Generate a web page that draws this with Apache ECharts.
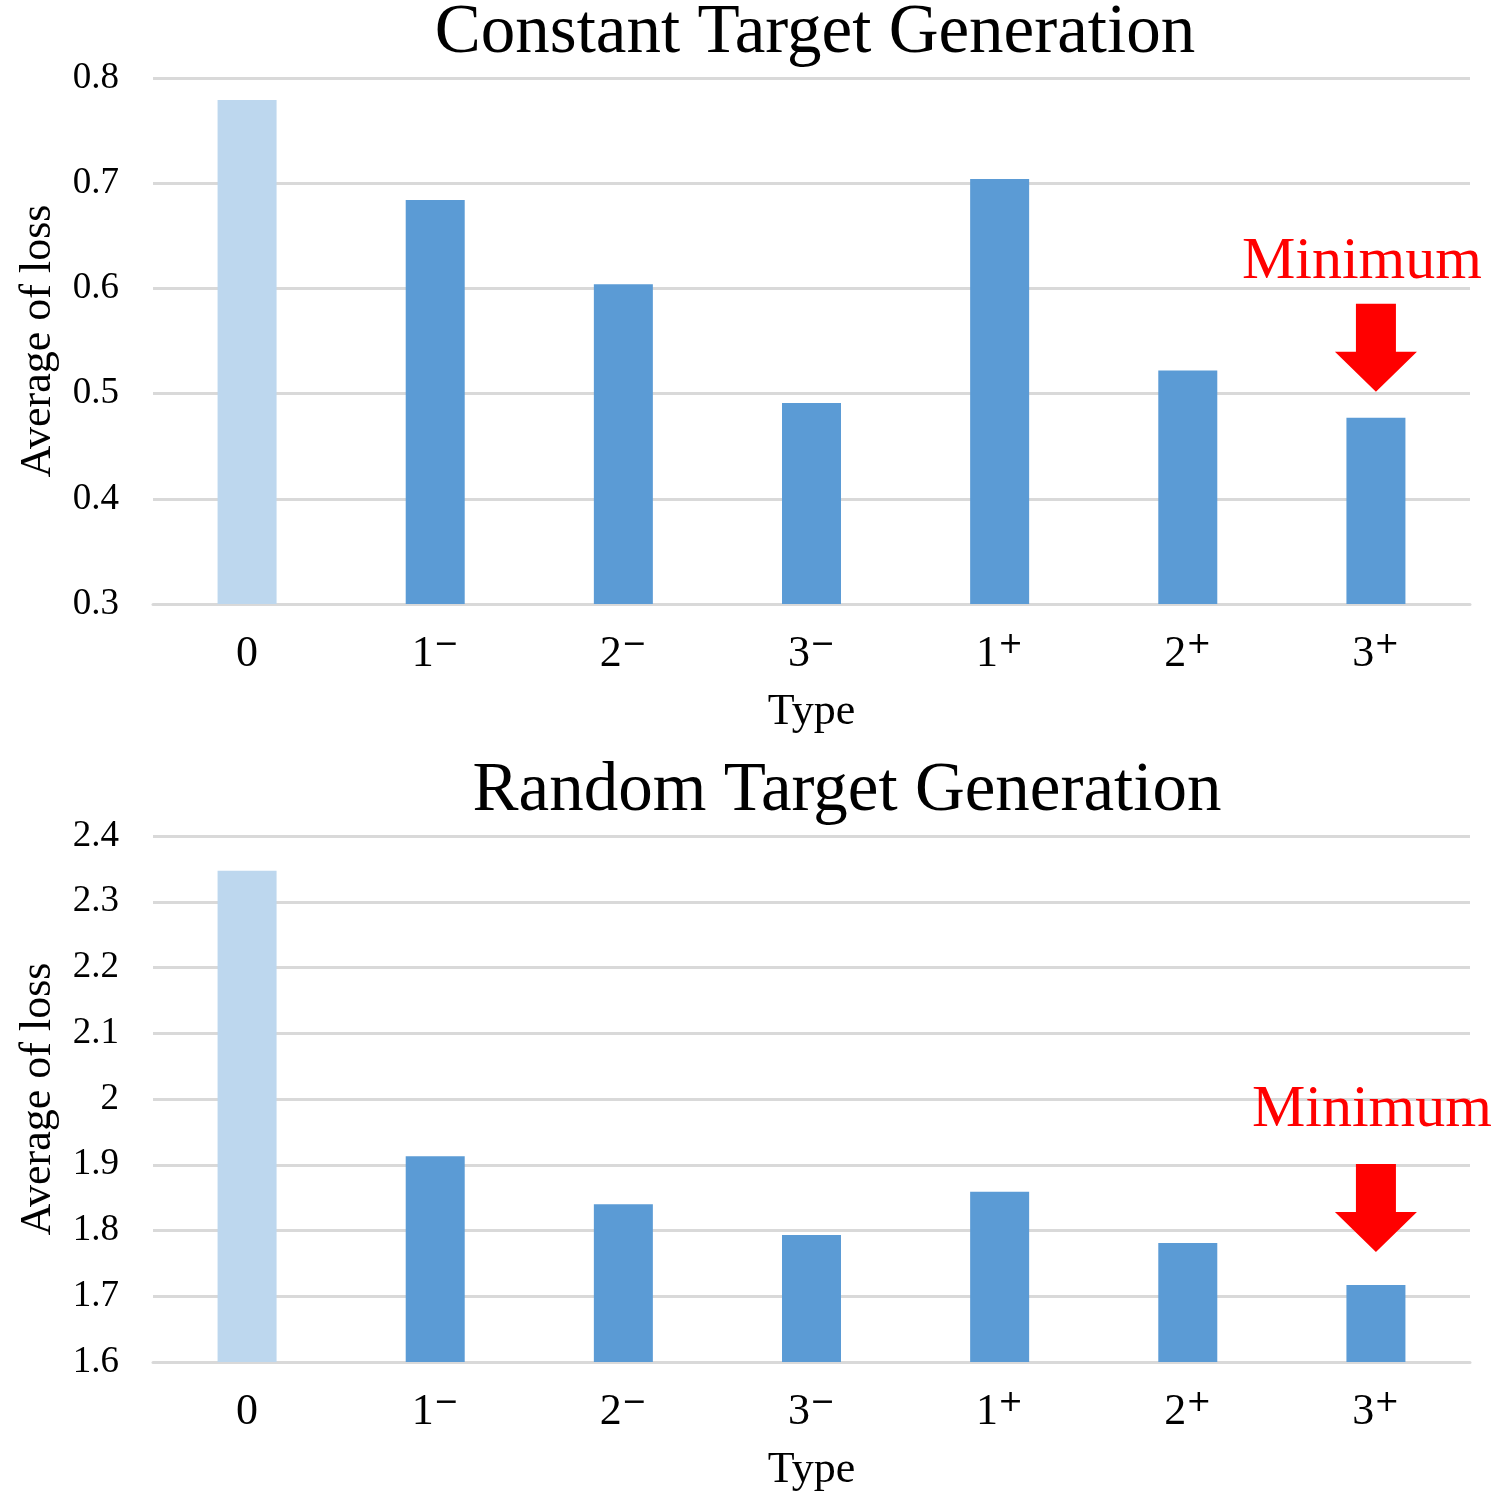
<!DOCTYPE html>
<html><head><meta charset="utf-8">
<script src="https://cdn.jsdelivr.net/npm/echarts@6/dist/echarts.min.js"></script>
<style>html,body{margin:0;padding:0;background:#fff}#c{width:1495px;height:1495px}</style>
</head><body><div id="c"></div>
<script>
const categories = ['0', '1⁻', '2⁻', '3⁻', '1⁺', '2⁺', '3⁺'];
const tickBase = ['0', '1', '2', '3', '1', '2', '3'];
const tickSup = ['', '−', '−', '−', '+', '+', '+'];
const constantLoss = [0.779, 0.684, 0.604, 0.491, 0.704, 0.522, 0.477];
const randomLoss = [2.347, 1.913, 1.840, 1.793, 1.859, 1.781, 1.717];
const constantTicks = [0.3, 0.8, 0.1];
const randomTicks = [1.6, 2.4, 0.1];
const titles = ['Constant Target Generation', 'Random Target Generation'];
const minLabel = 'Minimum';

const LIGHT = '#BDD7EE', DARK = '#5B9BD5';
const SERIF = '"Liberation Serif","Times New Roman",serif';
const arrowPath = 'path://M21,0 L61,0 L61,48 L82,48 L41,88 L0,48 L21,48 Z';

function colored(vals) {
  return vals.map((v, i) => ({ value: v, itemStyle: { color: i === 0 ? LIGHT : DARK } }));
}
function minPoint(vals, offY, lblOff) {
  let mi = 0;
  vals.forEach((v, i) => { if (v < vals[mi]) mi = i; });
  return {
    silent: true,
    animation: false,
    data: [{
      coord: [categories[mi], vals[mi]],
      symbol: arrowPath,
      symbolSize: [82, 88],
      symbolOffset: [0, offY],
      itemStyle: { color: '#FF0000' },
      label: {
        show: true, position: 'top', distance: lblOff[1], offset: [lblOff[0], 0],
        formatter: minLabel, color: '#FF0000', fontFamily: SERIF, fontSize: 60
      }
    }]
  };
}
function xAxis(gi) {
  return {
    type: 'category', gridIndex: gi, data: categories,
    name: 'Type', nameLocation: 'middle', nameGap: 86,
    nameTextStyle: { fontFamily: SERIF, fontSize: 44, color: '#000' },
    axisLine: { lineStyle: { color: '#D9D9D9', width: 3 } },
    axisTick: { show: false },
    axisLabel: {
      margin: 26,
      formatter: (v, i) => '{b|' + tickBase[i] + '}' + (tickSup[i] ? '{s|' + tickSup[i] + '}' : ''),
      rich: {
        b: { fontFamily: SERIF, fontSize: 44, color: '#000', lineHeight: 46, verticalAlign: 'bottom' },
        s: { fontFamily: '"DejaVu Sans",sans-serif', fontSize: 30, color: '#000', lineHeight: 30,
             verticalAlign: 'top', padding: [0, 0, 0, 0] }
      }
    }
  };
}
function yAxis(gi, t) {
  return {
    type: 'value', gridIndex: gi, min: t[0], max: t[1], interval: t[2],
    name: 'Average of loss', nameLocation: 'middle', nameGap: 93,
    nameTextStyle: { fontFamily: SERIF, fontSize: 44, color: '#000' },
    axisLine: { show: false }, axisTick: { show: false },
    axisLabel: { fontFamily: SERIF, fontSize: 37, color: '#000', margin: 34,
      formatter: v => String(parseFloat(v.toFixed(2))) },
    splitLine: { lineStyle: { color: '#D9D9D9', width: 3 } }
  };
}
const chart = echarts.init(document.getElementById('c'));
chart.setOption({
  backgroundColor: '#fff',
  animation: false,
  title: [
    { text: titles[0], left: 810, textAlign: 'center', top: -6,
      textStyle: { fontFamily: SERIF, fontSize: 69, fontWeight: 'normal', color: '#000' } },
    { text: titles[1], left: 842, textAlign: 'center', top: 752,
      textStyle: { fontFamily: SERIF, fontSize: 69, fontWeight: 'normal', color: '#000' } }
  ],
  grid: [
    { left: 153, right: 25, top: 78, height: 526 },
    { left: 153, right: 25, top: 836, height: 526 }
  ],
  xAxis: [xAxis(0), xAxis(1)],
  yAxis: [yAxis(0, constantTicks), yAxis(1, randomTicks)],
  series: [
    { type: 'bar', xAxisIndex: 0, yAxisIndex: 0, data: colored(constantLoss), barWidth: 59,
      markPoint: minPoint(constantLoss, -70, [-14, 12]) },
    { type: 'bar', xAxisIndex: 1, yAxisIndex: 1, data: colored(randomLoss), barWidth: 59,
      markPoint: minPoint(randomLoss, -77, [-4, 24]) }
  ]
});
</script></body></html>
